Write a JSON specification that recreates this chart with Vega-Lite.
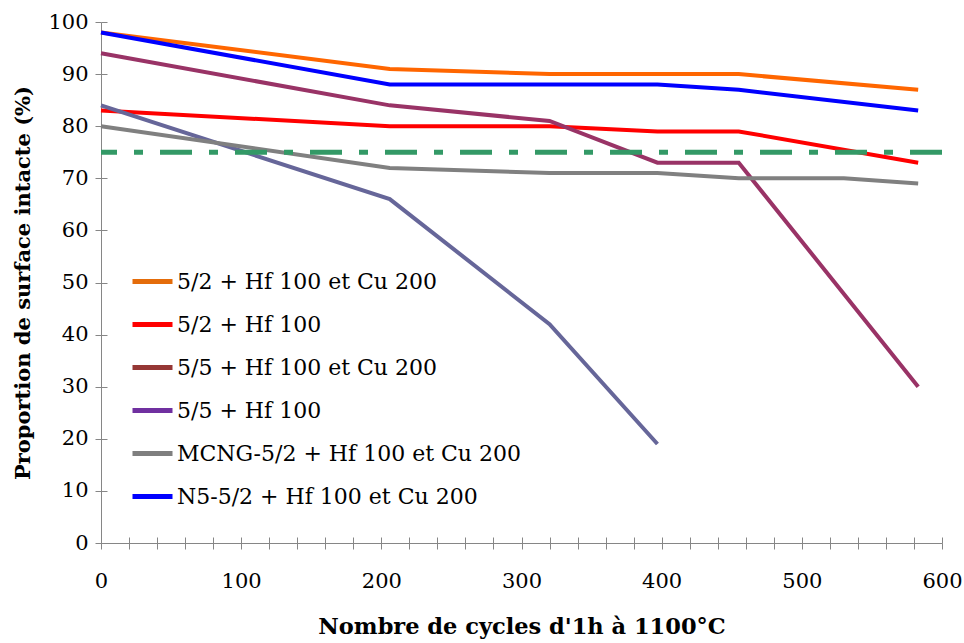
{
  "$schema": "https://vega.github.io/schema/vega-lite/v6.json",
  "width": 841,
  "height": 521,
  "autosize": {"type": "none"},
  "padding": {"left": 101, "top": 22, "right": 22, "bottom": 100},
  "background": "white",
  "config": {
    "view": {"stroke": null},
    "axis": {
      "grid": false,
      "domainColor": "#868686",
      "tickColor": "#868686",
      "labelColor": "#000000",
      "labelFont": "DejaVu Serif",
      "labelFontSize": 21,
      "titleFont": "DejaVu Serif",
      "titleFontSize": 21,
      "titleFontWeight": "bold",
      "titleColor": "#000000",
      "tickSize": 6,
      "labelOverlap": false
    }
  },
  "data": {
    "values": [
      {"serie": "5/2 + Hf 100 et Cu 200", "cycles": 0, "surface": 98},
      {"serie": "5/2 + Hf 100 et Cu 200", "cycles": 206, "surface": 91},
      {"serie": "5/2 + Hf 100 et Cu 200", "cycles": 320, "surface": 90},
      {"serie": "5/2 + Hf 100 et Cu 200", "cycles": 397, "surface": 90},
      {"serie": "5/2 + Hf 100 et Cu 200", "cycles": 455, "surface": 90},
      {"serie": "5/2 + Hf 100 et Cu 200", "cycles": 583, "surface": 87},
      {"serie": "5/2 + Hf 100", "cycles": 0, "surface": 83},
      {"serie": "5/2 + Hf 100", "cycles": 206, "surface": 80},
      {"serie": "5/2 + Hf 100", "cycles": 320, "surface": 80},
      {"serie": "5/2 + Hf 100", "cycles": 397, "surface": 79},
      {"serie": "5/2 + Hf 100", "cycles": 455, "surface": 79},
      {"serie": "5/2 + Hf 100", "cycles": 583, "surface": 73},
      {"serie": "5/5 + Hf 100 et Cu 200", "cycles": 0, "surface": 94},
      {"serie": "5/5 + Hf 100 et Cu 200", "cycles": 206, "surface": 84},
      {"serie": "5/5 + Hf 100 et Cu 200", "cycles": 320, "surface": 81},
      {"serie": "5/5 + Hf 100 et Cu 200", "cycles": 397, "surface": 73},
      {"serie": "5/5 + Hf 100 et Cu 200", "cycles": 455, "surface": 73},
      {"serie": "5/5 + Hf 100 et Cu 200", "cycles": 583, "surface": 30},
      {"serie": "5/5 + Hf 100", "cycles": 0, "surface": 84},
      {"serie": "5/5 + Hf 100", "cycles": 206, "surface": 66},
      {"serie": "5/5 + Hf 100", "cycles": 320, "surface": 42},
      {"serie": "5/5 + Hf 100", "cycles": 397, "surface": 19},
      {"serie": "MCNG-5/2 + Hf 100 et Cu 200", "cycles": 0, "surface": 80},
      {"serie": "MCNG-5/2 + Hf 100 et Cu 200", "cycles": 206, "surface": 72},
      {"serie": "MCNG-5/2 + Hf 100 et Cu 200", "cycles": 320, "surface": 71},
      {"serie": "MCNG-5/2 + Hf 100 et Cu 200", "cycles": 397, "surface": 71},
      {"serie": "MCNG-5/2 + Hf 100 et Cu 200", "cycles": 455, "surface": 70},
      {"serie": "MCNG-5/2 + Hf 100 et Cu 200", "cycles": 530, "surface": 70},
      {"serie": "MCNG-5/2 + Hf 100 et Cu 200", "cycles": 583, "surface": 69},
      {"serie": "N5-5/2 + Hf 100 et Cu 200", "cycles": 0, "surface": 98},
      {"serie": "N5-5/2 + Hf 100 et Cu 200", "cycles": 206, "surface": 88},
      {"serie": "N5-5/2 + Hf 100 et Cu 200", "cycles": 320, "surface": 88},
      {"serie": "N5-5/2 + Hf 100 et Cu 200", "cycles": 397, "surface": 88},
      {"serie": "N5-5/2 + Hf 100 et Cu 200", "cycles": 455, "surface": 87},
      {"serie": "N5-5/2 + Hf 100 et Cu 200", "cycles": 583, "surface": 83}
    ]
  },
  "layer": [
    {
      "mark": {"type": "line", "strokeWidth": 4},
      "encoding": {
        "x": {
          "field": "cycles", "type": "quantitative",
          "scale": {"domain": [0, 600], "nice": false},
          "axis": {
            "values": [0, 20, 40, 60, 80, 100, 120, 140, 160, 180, 200, 220, 240, 260, 280, 300, 320, 340, 360, 380, 400, 420, 440, 460, 480, 500, 520, 540, 560, 580, 600],
            "tickCount": 100,
            "labelExpr": "datum.value % 100 === 0 ? datum.label : ''",
            "labelPadding": 21,
            "labelFlush": false,
            "titlePadding": 24,
            "titleFontSize": 22.5,
            "title": "Nombre de cycles d'1h à 1100°C"
          }
        },
        "y": {
          "field": "surface", "type": "quantitative",
          "scale": {"domain": [0, 100], "nice": false},
          "axis": {
            "values": [0, 10, 20, 30, 40, 50, 60, 70, 80, 90, 100],
            "tickCount": 50,
            "labelPadding": 7,
            "titlePadding": 14,
            "title": "Proportion de surface intacte (%)"
          }
        },
        "color": {
          "field": "serie", "type": "nominal",
          "scale": {
            "domain": ["5/2 + Hf 100 et Cu 200", "5/2 + Hf 100", "5/5 + Hf 100 et Cu 200", "5/5 + Hf 100", "MCNG-5/2 + Hf 100 et Cu 200", "N5-5/2 + Hf 100 et Cu 200"],
            "range": ["#FF6600", "#FF0000", "#993366", "#666699", "#808080", "#0000FF"]
          },
          "legend": null
        }
      }
    },
    {
      "data": {"values": [{"seuil": 75}]},
      "mark": {"type": "rule", "color": "#339966", "strokeWidth": 5, "strokeDash": [32, 17, 9, 17]},
      "encoding": {
        "y": {"field": "seuil", "type": "quantitative", "axis": null}
      }
    },
    {
      "mark": {"type": "line", "opacity": 0},
      "encoding": {
        "x": {
          "field": "cycles", "type": "quantitative",
          "axis": {
            "orient": "bottom",
            "values": [0, 20, 40, 60, 80, 100, 120, 140, 160, 180, 200, 220, 240, 260, 280, 300, 320, 340, 360, 380, 400, 420, 440, 460, 480, 500, 520, 540, 560, 580, 600],
            "tickCount": 100,
            "tickSize": -6,
            "labels": false,
            "domain": false,
            "title": null
          }
        },
        "y": {
          "field": "surface", "type": "quantitative",
          "axis": {
            "orient": "left",
            "values": [0, 10, 20, 30, 40, 50, 60, 70, 80, 90, 100],
            "tickCount": 50,
            "tickSize": -6,
            "labels": false,
            "domain": false,
            "title": null
          }
        },
        "color": {
          "field": "serie", "type": "nominal",
          "scale": {
            "domain": ["5/2 + Hf 100 et Cu 200", "5/2 + Hf 100", "5/5 + Hf 100 et Cu 200", "5/5 + Hf 100", "MCNG-5/2 + Hf 100 et Cu 200", "N5-5/2 + Hf 100 et Cu 200"],
            "range": ["#E46C0A", "#FF0000", "#953735", "#7030A0", "#7F7F7F", "#0000FF"]
          },
          "legend": {
            "orient": "none",
            "legendX": 29,
            "legendY": 237,
            "title": null,
            "padding": 0,
            "symbolType": "stroke",
            "symbolSize": 1600,
            "symbolStrokeWidth": 5,
            "symbolOpacity": 1,
            "labelFont": "DejaVu Serif",
            "labelFontSize": 22,
            "labelColor": "#000000",
            "labelOffset": 2,
            "labelLimit": 0,
            "rowPadding": 9
          }
        }
      }
    }
  ],
  "resolve": {"scale": {"color": "independent"}, "axis": {"x": "independent", "y": "independent"}}
}
